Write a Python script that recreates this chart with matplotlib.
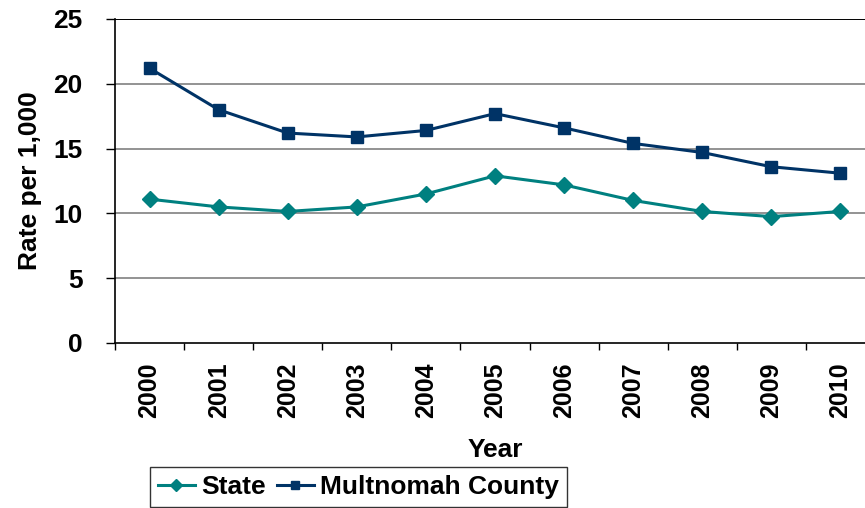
import numpy as np
import matplotlib
matplotlib.use("Agg")
import matplotlib.pyplot as plt
from matplotlib.ticker import FixedLocator

plt.rcParams['font.family'] = ['Liberation Sans', 'DejaVu Sans']
plt.rcParams['font.weight'] = 'bold'

years = ['2000', '2001', '2002', '2003', '2004', '2005',
         '2006', '2007', '2008', '2009', '2010']
state = [11.1, 10.5, 10.15, 10.5, 11.5, 12.9, 12.2, 11.0, 10.15, 9.75, 10.15]
multnomah = [21.2, 18.0, 16.2, 15.9, 16.4, 17.7, 16.6, 15.4, 14.7, 13.6, 13.1]

fig = plt.figure(figsize=(8.65, 5.08), dpi=100)
ax = fig.add_axes([115 / 865, 165 / 508, 760 / 865, 324 / 508])

x = np.arange(len(years))
ax.plot(x, state, color='#008080', lw=2.2, marker='D', ms=8.5,
        label='State', zorder=3)
ax.plot(x, multnomah, color='#003366', lw=2.2, marker='s', ms=8.5,
        label='Multnomah County', zorder=3)

ax.set_xlim(-0.5, len(years) - 0.5)
ax.set_ylim(0, 25)
ax.set_yticks([0, 5, 10, 15, 20, 25])
for y in [5, 10, 15, 20]:
    ax.axhline(y, color='#808080', lw=1.2, zorder=1)
ax.axhline(25, color='black', lw=1.4, zorder=1)

ax.set_xticks(x)
ax.set_xticklabels(years, rotation=90, fontsize=18, fontweight='bold')
ax.xaxis.set_minor_locator(FixedLocator(np.arange(-0.5, len(years), 1.0)))
ax.tick_params(axis='x', which='major', length=0, pad=14)
ax.tick_params(axis='x', which='minor', length=5, width=1, direction='out')
ax.tick_params(axis='y', length=6.5, width=1, direction='out', pad=17,
               labelsize=19)
for lbl in ax.get_yticklabels():
    lbl.set_fontweight('bold')

for s in ['top', 'right']:
    ax.spines[s].set_visible(False)
ax.spines['left'].set_linewidth(1.2)
ax.spines['bottom'].set_linewidth(1.2)

ax.set_xlabel('Year', fontsize=19, fontweight='bold', labelpad=14)
ax.set_ylabel('Rate per 1,000', fontsize=19, fontweight='bold', labelpad=8)

leg = fig.legend(loc='upper left', bbox_to_anchor=(150 / 865, 1 - 467 / 508),
                 ncol=2, fontsize=19, frameon=True, fancybox=False,
                 edgecolor='black', borderaxespad=0, handlelength=1.4,
                 handletextpad=0.25, columnspacing=0.4, borderpad=0.3,
                 markerscale=0.75)
leg.get_frame().set_linewidth(1.0)
for t in leg.get_texts():
    t.set_fontweight('bold')

fig.savefig('out.png', dpi=100)
